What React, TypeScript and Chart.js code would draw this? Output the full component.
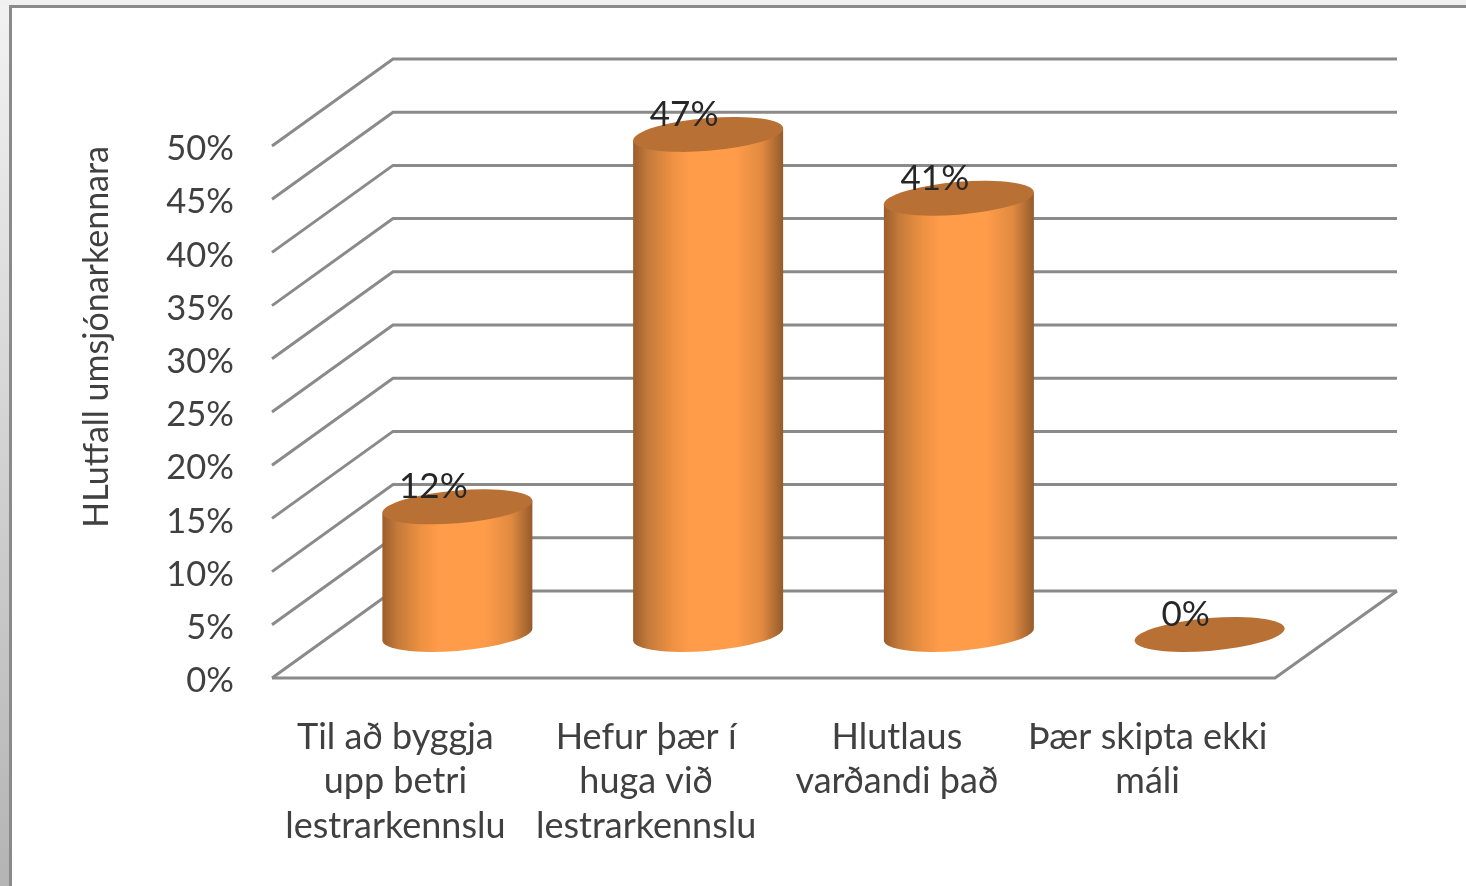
import React, { useEffect, useRef } from "react";
import { Chart, registerables } from "chart.js";

Chart.register(...registerables);

const categories: string[][] = [
  ["Til að byggja", "upp betri", "lestrarkennslu"],
  ["Hefur þær í", "huga við", "lestrarkennslu"],
  ["Hlutlaus", "varðandi það"],
  ["Þær skipta ekki", "máli"],
];
const shares: number[] = [12, 47, 41, 0];
const axisTitle = "HLutfall umsjónarkennara";

const DEPTH_X = 121;
const DEPTH_Y = 87;
const SHEAR = 0.08;
const RY = 16.4;
const FONT = "Lato";

const cylinders = {
  id: "cylinders",
  beforeDraw(chart: any) {
    const { ctx, width, height } = chart;
    ctx.save();
    const side = ctx.createLinearGradient(0, 0, 0, height);
    side.addColorStop(0, "#f2f2f2");
    side.addColorStop(1, "#b4b4b4");
    ctx.fillStyle = side;
    ctx.fillRect(0, 0, width, height);
    ctx.fillStyle = "#f0f0f0";
    ctx.fillRect(0, 0, width, 6);
    ctx.fillStyle = "#ffffff";
    ctx.fillRect(11, 7, width - 11, height - 7);
    ctx.strokeStyle = "#8a8a8a";
    ctx.lineWidth = 3;
    ctx.beginPath();
    ctx.moveTo(10.5, height);
    ctx.lineTo(10.5, 6.5);
    ctx.lineTo(width, 6.5);
    ctx.stroke();
    ctx.restore();
  },
  beforeDatasetsDraw(chart: any) {
    const { ctx, chartArea, scales } = chart;
    const y = scales.y;
    const { left, right } = chartArea;
    ctx.save();
    ctx.strokeStyle = "#8a8a8a";
    ctx.lineWidth = 3;
    ctx.lineJoin = "miter";
    y.ticks.forEach((t: any) => {
      const py = y.getPixelForValue(t.value);
      ctx.beginPath();
      ctx.moveTo(left, py);
      ctx.lineTo(left + DEPTH_X, py - DEPTH_Y);
      ctx.lineTo(right + DEPTH_X + 1, py - DEPTH_Y);
      ctx.stroke();
    });
    const base = y.getPixelForValue(0);
    ctx.beginPath();
    ctx.moveTo(left, base);
    ctx.lineTo(right, base);
    ctx.lineTo(right + DEPTH_X + 1, base - DEPTH_Y);
    ctx.stroke();
    ctx.restore();
  },
  afterDatasetsDraw(chart: any) {
    const { ctx, scales } = chart;
    const y = scales.y;
    const meta = chart.getDatasetMeta(0);
    const base = y.getPixelForValue(0) - DEPTH_Y / 2;
    meta.data.forEach((bar: any, i: number) => {
      const cx = bar.x + DEPTH_X / 2 - 0.5;
      const rx = bar.width / 2;
      const h = y.getPixelForValue(0) - bar.y;
      ctx.save();
      ctx.transform(1, -SHEAR, 0, 1, cx, base);
      if (h > 0) {
        const g = ctx.createLinearGradient(-rx, 0, rx, 0);
        g.addColorStop(0, "#9a5d2c");
        g.addColorStop(0.1, "#c47a3a");
        g.addColorStop(0.26, "#ee9142");
        g.addColorStop(0.38, "#ff9c4a");
        g.addColorStop(0.68, "#ff9c4a");
        g.addColorStop(0.86, "#e08a40");
        g.addColorStop(1, "#945b2b");
        ctx.fillStyle = g;
        ctx.beginPath();
        ctx.moveTo(-rx, -h);
        ctx.lineTo(-rx, 0);
        ctx.ellipse(0, 0, rx, RY, 0, Math.PI, 0, true);
        ctx.lineTo(rx, -h);
        ctx.closePath();
        ctx.fill();
      }
      ctx.fillStyle = "#b87035";
      ctx.beginPath();
      ctx.ellipse(0, -h, rx, RY, 0, 0, Math.PI * 2);
      ctx.fill();
      ctx.restore();

      ctx.save();
      ctx.fillStyle = "#262626";
      ctx.font = `35px ${FONT}`;
      ctx.textAlign = "center";
      ctx.textBaseline = "middle";
      ctx.fillText(`${shares[i]}%`, cx - 24, base - h - 20);
      ctx.restore();
    });
  },
};

export default function App() {
  const ref = useRef<HTMLCanvasElement | null>(null);
  useEffect(() => {
    const chart = new Chart(ref.current as HTMLCanvasElement, {
      type: "bar",
      data: {
        labels: categories as any,
        datasets: [
          {
            label: axisTitle,
            data: shares,
            barThickness: 150,
            backgroundColor: "rgba(0,0,0,0)",
            borderWidth: 0,
          },
        ],
      },
      options: {
        animation: false,
        responsive: false,
        layout: { padding: { top: 146, right: 191, left: 0, bottom: 0 } },
        plugins: { legend: { display: false }, tooltip: { enabled: false } },
        scales: {
          x: {
            grid: { display: false },
            border: { display: false },
            afterFit: (s: any) => {
              s.height = 208;
            },
            ticks: {
              color: "#404040",
              font: { family: FONT, size: 36, lineHeight: 1.236 },
              padding: 29,
              labelOffset: -2,
              maxRotation: 0,
              minRotation: 0,
              autoSkip: false,
            },
          },
          y: {
            min: 0,
            max: 50,
            grid: { display: false },
            border: { display: false },
            afterFit: (s: any) => {
              s.width = 272;
            },
            title: {
              display: true,
              text: axisTitle,
              align: "end",
              color: "#404040",
              font: { family: FONT, size: 34 },
              padding: { top: 77, bottom: 0 },
            },
            ticks: {
              stepSize: 5,
              color: "#404040",
              font: { family: FONT, size: 34.5 },
              padding: 30,
              labelOffset: 3,
              callback: (v: any) => `${v}%`,
            },
          },
        },
      },
      plugins: [cylinders],
    } as any);
    return () => chart.destroy();
  }, []);
  return (
    <canvas
      ref={ref}
      width={1466}
      height={886}
      style={{ position: "absolute", left: 0, top: 0, display: "block", filter: "blur(0.7px)" }}
    />
  );
}
